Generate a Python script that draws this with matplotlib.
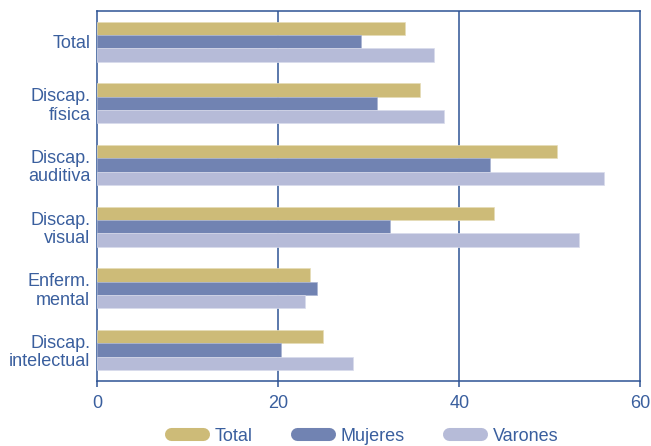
import matplotlib.pyplot as plt
from matplotlib.lines import Line2D
import numpy as np

plt.rcParams['font.family'] = ['Liberation Sans', 'DejaVu Sans']

# Datos (porcentajes)
categorias = ["Total", "Discap.\nfísica", "Discap.\nauditiva", "Discap.\nvisual",
              "Enferm.\nmental", "Discap.\nintelectual"]
total = [34.0, 35.7, 50.8, 43.8, 23.5, 24.9]
mujeres = [29.1, 30.9, 43.4, 32.3, 24.3, 20.3]
varones = [37.2, 38.3, 56.0, 53.2, 22.9, 28.3]
series = ["Total", "Mujeres", "Varones"]

col_total = '#CDBB78'
col_muj = '#7183B2'
col_var = '#B6BBD8'
azul = '#2E5394'
texto = '#3A5F9E'

fig = plt.figure(figsize=(6.51, 4.46), dpi=100)
ax = fig.add_axes([0.1495, 0.1457, 0.8341, 0.8303])

y = np.arange(len(categorias))
h = 0.216
ax.barh(y - h, total, height=h, color=col_total, edgecolor='#E6DDB8', linewidth=0.5, zorder=3)
ax.barh(y, mujeres, height=h, color=col_muj, edgecolor='#A9B4D2', linewidth=0.5, zorder=3)
ax.barh(y + h, varones, height=h, color=col_var, edgecolor='#D8DBEB', linewidth=0.5, zorder=3)

ax.set_ylim(len(categorias) - 0.5, -0.5)
ax.set_xlim(0, 60)
ax.set_xticks([0, 20, 40, 60])
ax.set_yticks(y)
ax.set_yticklabels(categorias)

for x in [20, 40]:
    ax.axvline(x, color=azul, linewidth=1.1, zorder=2)

for s in ax.spines.values():
    s.set_color(azul)
    s.set_linewidth(1.1)

ax.tick_params(axis='x', colors=azul, labelcolor=texto, labelsize=13, length=4,
               width=1.1, direction='out', pad=6)
ax.tick_params(axis='y', length=0, labelcolor=texto, labelsize=13, pad=5)

for t in ax.get_yticklabels():
    t.set_multialignment('right')
    t.set_linespacing(1.1)

handles = [Line2D([0], [0], color=c, linewidth=9.4, solid_capstyle='round')
           for c in [col_total, col_muj, col_var]]
leg = fig.legend(handles, series, loc='center', bbox_to_anchor=(0.56, 0.022),
                 ncol=3, frameon=False, fontsize=13, handlelength=1.78,
                 handletextpad=0.64, columnspacing=2.47, borderaxespad=0)
for t in leg.get_texts():
    t.set_color(texto)

fig.savefig('out.png', dpi=100)
